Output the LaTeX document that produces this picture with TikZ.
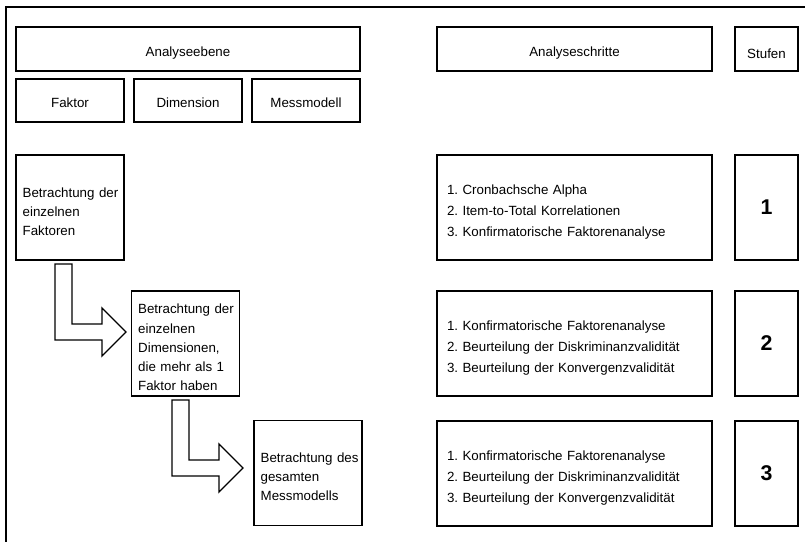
\documentclass[tikz,border=0pt]{standalone}
\usepackage{fontspec}
\setmainfont{Liberation Sans}
\frenchspacing
\begin{document}
\begin{tikzpicture}[x=0.75pt, y=-0.75pt, line width=1pt,
  every node/.style={font=\fontsize{10}{14.3}\selectfont},
  kopf/.style={draw, minimum height=33pt, inner sep=0pt},
  ebenebox/.style={draw, minimum width=81pt, minimum height=78.75pt, text width=71pt, inner xsep=5pt, align=left, execute at begin node={\rule{0pt}{13pt}}},
  schrittbox/.style={draw, minimum width=206.25pt, minimum height=78.75pt, text width=191.25pt, inner xsep=7.5pt, align=left, font=\fontsize{10}{15.75}\selectfont, execute at begin node={\rule{0pt}{14pt}}},
  stufebox/.style={draw, minimum width=47.25pt, minimum height=78.75pt, font=\fontsize{16}{18}\selectfont\bfseries}]
  \useasboundingbox (0,0) rectangle (805,542);
  \draw (805,7) -- (6,7) -- (6,542);
  % Kopfzeile
  \node[kopf, minimum width=258pt] (ebene) at (188,49) {\rule{0pt}{14pt}Analyseebene};
  \node[kopf, minimum width=206.25pt] (schritte) at (574.5,49) {\rule{0pt}{14pt}Analyseschritte};
  \node[kopf, minimum width=47.25pt] (stufen) at (766.5,49) {\rule{0pt}{14pt}Stufen};
  \node[kopf, minimum width=81pt, minimum height=32.25pt] (faktor) at (70,100.5) {\rule{0pt}{10pt}Faktor};
  \node[kopf, minimum width=81pt, minimum height=32.25pt] (dimension) at (188,100.5) {\rule{0pt}{10pt}Dimension};
  \node[kopf, minimum width=81pt, minimum height=32.25pt] (messmodell) at (306,100.5) {\rule{0pt}{10pt}Messmodell};
  % Analyseebenen
  \node[ebenebox] (fak) at (70,207.5) {Betrachtung~der\\einzelnen\\Faktoren};
  \node[ebenebox] (dim) at (185.5,343.5) {Betrachtung~der\\einzelnen\\Dimensionen,\\die~mehr~als~1\\Faktor~haben};
  \node[ebenebox] (mess) at (308,473) {Betrachtung~des\\gesamten\\Messmodells};
  % Analyseschritte und Stufen
  \node[schrittbox] (schritt1) at (574.5,207.5) {1. Cronbachsche Alpha\\2. Item-to-Total Korrelationen\\3. Konfirmatorische Faktorenanalyse};
  \node[schrittbox] (schritt2) at (574.5,343.5) {1. Konfirmatorische Faktorenanalyse\\2. Beurteilung der Diskriminanzvalidität\\3. Beurteilung der Konvergenzvalidität};
  \node[schrittbox] (schritt3) at (574.5,473.5) {1. Konfirmatorische Faktorenanalyse\\2. Beurteilung der Diskriminanzvalidität\\3. Beurteilung der Konvergenzvalidität};
  \node[stufebox] (stufe1) at (766.5,207.5) {1};
  \node[stufebox] (stufe2) at (766.5,343.5) {2};
  \node[stufebox] (stufe3) at (766.5,473.5) {3};
  % Blockpfeile
  \foreach \px/\py in {55/264, 172/400}
    \draw (\px,\py) -- ++(17,0) -- ++(0,60) -- ++(30,0) -- ++(0,-16)
      -- (\px+71,\py+68) -- (\px+47,\py+92) -- ++(0,-16) -- (\px,\py+76) -- cycle;
\end{tikzpicture}
\end{document}
